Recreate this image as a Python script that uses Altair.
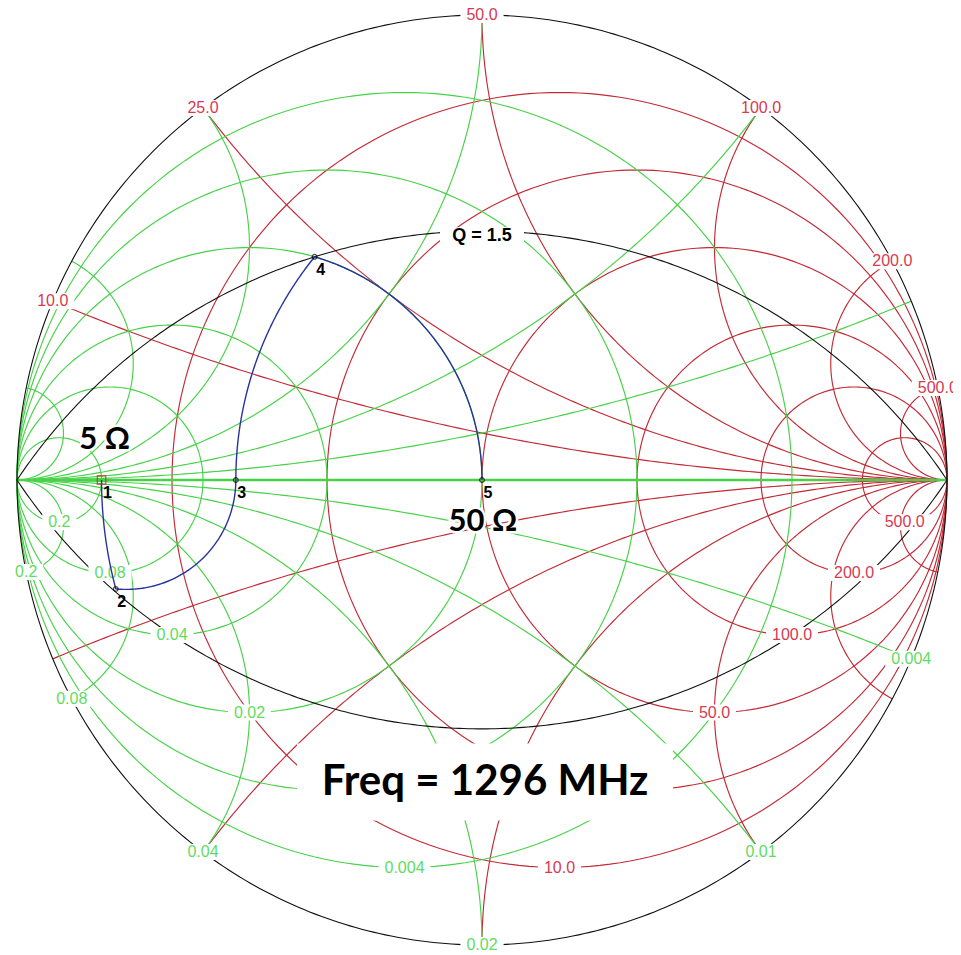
import math
import numpy as np
import pandas as pd
import altair as alt

# ---------------- chart values ----------------
Z0 = 50.0                      # reference impedance, ohm
Y0 = 1.0 / Z0                  # reference admittance, S
resistance_values = [0.2, 0.5, 1.0, 2.0, 4.0, 10.0]    # normalised r circles (red)
reactance_values = [0.2, 0.5, 1.0, 2.0, 4.0, 10.0]     # normalised +/-x arcs (red)
conductance_values = [0.2, 0.5, 1.0, 2.0, 4.0, 10.0]   # normalised g circles (green)
susceptance_values = [0.2, 0.5, 1.0, 2.0, 4.0, 10.0]   # normalised +/-b arcs (green)
q_values = [1.5]

# matching path nodes (normalised impedance r + jx)
node_labels = ["1", "2", "3", "4", "5"]
node_r = [0.1, 0.1, 0.3077, 0.3077, 1.0]
node_x = [0.0, -0.1441, 0.0, 0.4615, 0.0]
segment_types = ["series", "shunt", "series", "shunt"]

source_label = "5 \u03a9"
load_label = "50 \u03a9"
freq_label = "Freq = 1296 MHz"

# ---------------- layout / style ----------------
PX = 465.0                       # pixels per unit of |Gamma|
W = H = 945
X_MIN = -474.0 / PX
X_MAX = X_MIN + W / PX
Y_MAX = 472.0 / PX
Y_MIN = Y_MAX - H / PX

RED = "#c22a36"
RED_TXT = "#d63a50"
GREEN = "#46d246"
GREEN_TXT = "#5fdc5f"
BLUE = "#27349e"


def gamma(z):
    return (z - 1) / (z + 1)


def circle_pts(cx, cy, rad, n=241):
    t = np.linspace(0, 2 * np.pi, n)
    return cx + rad * np.cos(t), cy + rad * np.sin(t)


def reactance_arc(x, n=181):
    cx, cy, rad = 1.0, 1.0 / x, 1.0 / abs(x)
    px = (x * x - 1) / (x * x + 1)
    py = 2 * x / (x * x + 1)
    a0 = math.atan2(py - cy, px - cx)
    a1 = math.atan2(-cy, 0.0)
    d = (a1 - a0 + math.pi) % (2 * math.pi) - math.pi
    a = a0 + d * np.linspace(0, 1, n)
    return cx + rad * np.cos(a), cy + rad * np.sin(a)


rows = []


def add(kind, cid, xs, ys):
    for i, (a, b) in enumerate(zip(xs, ys)):
        rows.append((kind, cid, i, float(a), float(b)))


for r in resistance_values:
    add("red", f"r{r}", *circle_pts(r / (1 + r), 0.0, 1 / (1 + r)))
for x in reactance_values:
    for s in (1, -1):
        add("red", f"x{s * x}", *reactance_arc(s * x))
for g in conductance_values:
    add("green", f"g{g}", *circle_pts(-g / (1 + g), 0.0, 1 / (1 + g)))
for b in susceptance_values:
    for s in (1, -1):
        xs, ys = reactance_arc(s * b)
        add("green", f"b{s * b}", -xs, -ys)
add("axis", "axis", np.array([-1.0, 1.0]), np.array([0.0, 0.0]))
add("black", "unit", *circle_pts(0.0, 0.0, 1.0, 481))
for q in q_values:
    c = 1 / q
    rad = math.sqrt(1 + c * c)
    a0 = math.atan2(c, 1)
    a = np.linspace(a0, math.pi - a0, 241)
    add("black", f"q+{q}", rad * np.cos(a), -c + rad * np.sin(a))
    add("black", f"q-{q}", rad * np.cos(a), c - rad * np.sin(a))
curves = pd.DataFrame(rows, columns=["kind", "cid", "i", "gx", "gy"])


def fmt_s(v):
    return f"{round(v, 6):g}"


def text_w(s, size=16.0):
    return sum(0.278 if ch == "." else 0.556 for ch in s) * size


# frequency annotation box (centre and half sizes in Gamma units)
freq = pd.DataFrame({"text": [freq_label], "gx": [0.0065], "gy": [-0.6495]})
freq["x1"] = freq["gx"] - 188 / PX
freq["x2"] = freq["gx"] + 188 / PX
freq["y1"] = freq["gy"] - 38.5 / PX
freq["y2"] = freq["gy"] + 38.5 / PX
fb = freq.iloc[0]

lab = []
for x in reactance_values:
    lab.append(("red", f"{x * Z0:.1f}", (x * x - 1) / (x * x + 1), 2 * x / (x * x + 1)))
for r in resistance_values:
    lab.append(("red", f"{r * Z0:.1f}", r / (1 + r), -1 / (1 + r)))
for b in susceptance_values:
    lab.append(("green", fmt_s(b * Y0), -(b * b - 1) / (b * b + 1), -2 * b / (b * b + 1)))
for g in conductance_values:
    lab.append(("green", fmt_s(g * Y0), -g / (1 + g), -1 / (1 + g)))
labels = pd.DataFrame(lab, columns=["kind", "text", "gx", "gy"])
# labels that sit under the white frequency box are hidden in the chart
hidden = ((labels["gx"] > fb["x1"]) & (labels["gx"] < fb["x2"]) &
          (labels["gy"] > fb["y1"]) & (labels["gy"] < fb["y2"]))
labels = labels[~hidden].copy()
labels["hw"] = [(text_w(t) + 12) / 2 / PX for t in labels["text"]]
labels["x1"] = labels["gx"] - labels["hw"]
labels["x2"] = labels["gx"] + labels["hw"]
labels["y1"] = labels["gy"] - 8 / PX
labels["y2"] = labels["gy"] + 8 / PX

# Q label
q_rows = []
for q in q_values:
    c = 1 / q
    top = -c + math.sqrt(1 + c * c)
    q_rows.append((f"Q = {q}", 0.0, top - 5 / PX))
qlab = pd.DataFrame(q_rows, columns=["text", "gx", "gy"])
qlab["x1"] = qlab["gx"] - 42 / PX
qlab["x2"] = qlab["gx"] + 42 / PX
qlab["y1"] = qlab["gy"] - 9 / PX
qlab["y2"] = qlab["gy"] + 9 / PX

# matching path
zs = [complex(a, b) for a, b in zip(node_r, node_x)]
prow = []
k = 0
for s, kind in enumerate(segment_types):
    z0, z1 = zs[s], zs[s + 1]
    if kind == "series":
        xx = np.linspace(z0.imag, z1.imag, 120)
        zz = z0.real + 1j * xx
    else:
        y0, y1 = 1 / z0, 1 / z1
        bb = np.linspace(y0.imag, y1.imag, 120)
        zz = 1 / (y0.real + 1j * bb)
    gg = gamma(zz)
    for v in gg:
        prow.append((k, float(v.real), float(v.imag)))
        k += 1
path = pd.DataFrame(prow, columns=["i", "gx", "gy"])

ng = [gamma(z) for z in zs]
nodes = pd.DataFrame({"name": node_labels,
                      "gx": [float(v.real) for v in ng],
                      "gy": [float(v.imag) for v in ng]})

src = nodes.iloc[[0]].assign(text=source_label)
load = nodes.iloc[[4]].assign(text=load_label)

# ---------------- chart ----------------
xs = alt.Scale(domain=[X_MIN, X_MAX], nice=False, zero=False)
ys = alt.Scale(domain=[Y_MIN, Y_MAX], nice=False, zero=False)
X = alt.X("gx:Q", scale=xs, axis=None)
Y = alt.Y("gy:Q", scale=ys, axis=None)
X1 = alt.X("x1:Q", scale=xs, axis=None)
Y1 = alt.Y("y1:Q", scale=ys, axis=None)


def line_layer(kind, color, width):
    return alt.Chart(curves[curves["kind"] == kind]).mark_line(
        color=color, strokeWidth=width).encode(X, Y, detail="cid:N", order="i:Q")


red_l = line_layer("red", RED, 1.15)
green_l = line_layer("green", GREEN, 1.15)
axis_l = line_layer("axis", GREEN, 2.4)
black_l = line_layer("black", "#111111", 1.1)

lab_bg = alt.Chart(labels).mark_rect(color="white").encode(X1, Y1, x2="x2:Q", y2="y2:Q")
lab_txt = alt.Chart(labels).mark_text(font="Liberation Sans", fontSize=16).encode(
    X, Y, text="text:N",
    color=alt.Color("kind:N", scale=alt.Scale(domain=["red", "green"], range=[RED_TXT, GREEN_TXT]),
                    legend=None))
q_bg = alt.Chart(qlab).mark_rect(color="white").encode(X1, Y1, x2="x2:Q", y2="y2:Q")
q_txt = alt.Chart(qlab).mark_text(font="Liberation Sans", fontSize=18, fontWeight="bold",
                                  color="black").encode(X, Y, text="text:N")

path_l = alt.Chart(path).mark_line(color=BLUE, strokeWidth=1.4).encode(X, Y, order="i:Q")
node_c = alt.Chart(nodes[nodes["name"] != "1"]).mark_point(
    shape="circle", size=22, filled=False, color="black", strokeWidth=1.2).encode(X, Y)
node_s = alt.Chart(nodes[nodes["name"] == "1"]).mark_point(
    shape="square", size=70, filled=False, color="#c0302a", strokeWidth=1.4).encode(X, Y)
node_t = alt.Chart(nodes).mark_text(font="Liberation Sans", fontSize=16, fontWeight="bold",
                                    color="black", dx=6, dy=13).encode(X, Y, text="name:N")


def big_text(df, dx, dy, size):
    halo = alt.Chart(df).mark_text(font="Lato", fontSize=size, fontWeight="bold", color="white",
                                   stroke="white", strokeWidth=5, dx=dx, dy=dy).encode(X, Y, text="text:N")
    txt = alt.Chart(df).mark_text(font="Lato", fontSize=size, fontWeight="bold", color="black",
                                  dx=dx, dy=dy).encode(X, Y, text="text:N")
    return [halo, txt]


freq_bg = alt.Chart(freq).mark_rect(color="white").encode(X1, Y1, x2="x2:Q", y2="y2:Q")
freq_txt = alt.Chart(freq).mark_text(font="Lato", fontSize=42, fontWeight="bold",
                                     color="black").encode(X, Y, text="text:N")

chart = alt.layer(
    red_l, green_l, axis_l, black_l,
    lab_bg, lab_txt, q_bg, q_txt,
    path_l, node_s, node_c, node_t,
    *big_text(src, 3, -40, 31), *big_text(load, 1, 42, 31),
    freq_bg, freq_txt,
).properties(
    width=W, height=H, padding=0,
    autosize=alt.AutoSizeParams(type="none"),
    background="white",
).configure_view(stroke=None)

chart.save("out.html", embed_options={"renderer": "svg", "actions": False})
